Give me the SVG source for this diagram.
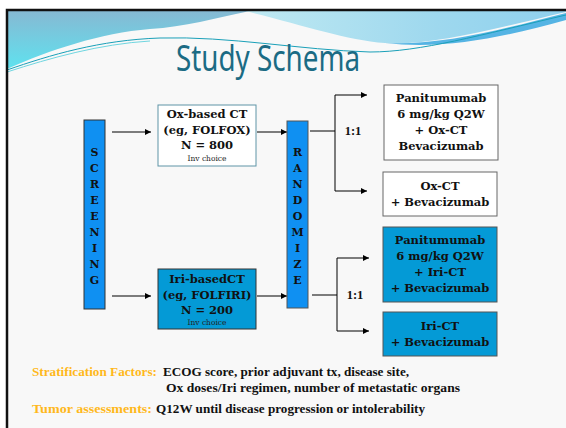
<svg xmlns="http://www.w3.org/2000/svg" width="566" height="428" viewBox="0 0 566 428">
<defs>
<linearGradient id="gTL" x1="0" y1="0" x2="0" y2="1">
<stop offset="0" stop-color="#86b9d3"/>
<stop offset="1" stop-color="#5fe2ef"/>
</linearGradient>
<linearGradient id="gTR" x1="0" y1="0" x2="1" y2="0">
<stop offset="0" stop-color="#bfe9f2"/>
<stop offset="0.6" stop-color="#9ed8ee"/>
<stop offset="1" stop-color="#8fd0ee"/>
</linearGradient>
<marker id="ah" viewBox="0 0 6 6" refX="6" refY="3" markerWidth="6" markerHeight="6" markerUnits="userSpaceOnUse" orient="auto">
<path d="M0,0 L6,3 L0,6 Z" fill="#000"/>
</marker>
</defs>
<style>
.box{font-family:"DejaVu Serif","Liberation Serif",serif;font-weight:bold;font-size:11.5px;fill:#111;text-anchor:middle}
.small{font-family:"DejaVu Serif","Liberation Serif",serif;font-size:7.5px;fill:#222;text-anchor:middle}
.vert{font-family:"DejaVu Serif","Liberation Serif",serif;font-weight:bold;font-size:11px;fill:#111;text-anchor:middle}
.ratio{font-family:"Liberation Serif",serif;font-weight:bold;font-size:12.5px;fill:#111;text-anchor:middle}
.gold{font-family:"Liberation Serif",serif;font-weight:bold;font-size:12.5px;fill:#ffb81c}
.blk{font-family:"Liberation Serif",serif;font-weight:bold;font-size:12.5px;fill:#111}
.ln{stroke:#000;stroke-width:1;fill:none}
.arr{stroke:#000;stroke-width:1;fill:none;marker-end:url(#ah)}
</style>
<rect x="0" y="0" width="566" height="428" fill="#ffffff"/>
<rect x="7" y="10" width="559" height="418" fill="#f8f8f8"/>
<g id="header">
<path d="M7,11 L250,11 C215,18 185,27 150,29 C100,33 50,50 7,69 Z" fill="url(#gTL)"/>
<path d="M245,11 C300,24 345,40 385,43 C430,46 490,30 566,12 L566,11 Z" fill="url(#gTR)"/>
<path d="M385,43 C440,46 500,30 566,13 L566,20 C505,37 445,50 385,43 Z" fill="#55b4e4"/>
<path d="M7,70 C50,55 100,40 160,38 C230,36 300,50 370,52 C420,52 480,35 566,15" fill="none" stroke="#1aa0b8" stroke-width="1"/>
<path d="M7,72 C50,58 100,44 150,41" fill="none" stroke="#6fd6e0" stroke-width="1"/>
</g>
<path d="M7,428 L7,10 L566,10" fill="none" stroke="#111" stroke-width="2.5"/>
<text x="268" y="71" font-family="Noto Sans, Open Sans, sans-serif" font-size="36" fill="#1b6b84" text-anchor="middle" textLength="184" lengthAdjust="spacingAndGlyphs">Study Schema</text>
<g id="connectors">
<line class="arr" x1="112" y1="132" x2="151" y2="132"/>
<line class="arr" x1="112" y1="296" x2="151" y2="296"/>
<line class="arr" x1="257" y1="132" x2="287" y2="132"/>
<line class="arr" x1="257" y1="296" x2="287" y2="296"/>
<line class="ln" x1="310" y1="131" x2="335" y2="131"/>
<line class="ln" x1="335" y1="95" x2="335" y2="191"/>
<line class="arr" x1="335" y1="95" x2="367" y2="95"/>
<line class="arr" x1="335" y1="191" x2="367" y2="191"/>
<line class="ln" x1="312" y1="295" x2="337" y2="295"/>
<line class="ln" x1="337" y1="258" x2="337" y2="331"/>
<line class="arr" x1="337" y1="258" x2="369" y2="258"/>
<line class="arr" x1="337" y1="331" x2="369" y2="331"/>
<text class="ratio" x="353" y="135">1:1</text>
<text class="ratio" x="355" y="299">1:1</text>
</g>
<g id="screening">
<rect x="84" y="120" width="21" height="189" fill="#0f90f2" stroke="#333" stroke-width="1"/>
<text class="vert" x="94.5" y="156">S</text>
<text class="vert" x="94.5" y="172">C</text>
<text class="vert" x="94.5" y="188">R</text>
<text class="vert" x="94.5" y="204">E</text>
<text class="vert" x="94.5" y="220">E</text>
<text class="vert" x="94.5" y="236">N</text>
<text class="vert" x="94.5" y="252">I</text>
<text class="vert" x="94.5" y="268">N</text>
<text class="vert" x="94.5" y="284">G</text>
</g>
<g id="ox-ct">
<rect x="158" y="105" width="98" height="61" fill="#ffffff" stroke="#5e94a6" stroke-width="1"/>
<text class="box" x="207" y="118">Ox-based CT</text>
<text class="box" x="207" y="134">(eg, FOLFOX)</text>
<text class="box" x="207" y="149">N = 800</text>
<text class="small" x="207" y="161">Inv choice</text>
</g>
<g id="iri-ct">
<rect x="158" y="269" width="98" height="60" fill="#049ad6" stroke="#333" stroke-width="1"/>
<text class="box" x="207" y="283">Iri-basedCT</text>
<text class="box" x="207" y="299">(eg, FOLFIRI)</text>
<text class="box" x="207" y="314">N = 200</text>
<text class="small" x="207" y="325">Inv choice</text>
</g>
<g id="randomize">
<rect x="287" y="121" width="21" height="187" fill="#0f90f2" stroke="#555" stroke-width="1"/>
<text class="vert" x="297.5" y="156">R</text>
<text class="vert" x="297.5" y="172">A</text>
<text class="vert" x="297.5" y="188">N</text>
<text class="vert" x="297.5" y="204">D</text>
<text class="vert" x="297.5" y="220">O</text>
<text class="vert" x="297.5" y="236">M</text>
<text class="vert" x="297.5" y="252">I</text>
<text class="vert" x="297.5" y="268">Z</text>
<text class="vert" x="297.5" y="284">E</text>
</g>
<g id="pan-ox">
<rect x="384" y="85" width="114" height="75" fill="#ffffff" stroke="#666" stroke-width="1"/>
<text class="box" x="441" y="102">Panitumumab</text>
<text class="box" x="441" y="118">6 mg/kg Q2W</text>
<text class="box" x="441" y="134">+ Ox-CT</text>
<text class="box" x="441" y="150">Bevacizumab</text>
</g>
<g id="ox-bev">
<rect x="383" y="172" width="114" height="44" fill="#ffffff" stroke="#666" stroke-width="1"/>
<text class="box" x="440" y="190">Ox-CT</text>
<text class="box" x="440" y="206">+ Bevacizumab</text>
</g>
<g id="pan-iri">
<rect x="383" y="227" width="114" height="75" fill="#049ad6" stroke="#555" stroke-width="1"/>
<text class="box" x="440" y="244">Panitumumab</text>
<text class="box" x="440" y="260">6 mg/kg Q2W</text>
<text class="box" x="440" y="276">+ Iri-CT</text>
<text class="box" x="440" y="292">+ Bevacizumab</text>
</g>
<g id="iri-bev">
<rect x="383" y="312" width="114" height="44" fill="#049ad6" stroke="#555" stroke-width="1"/>
<text class="box" x="440" y="330">Iri-CT</text>
<text class="box" x="440" y="346">+ Bevacizumab</text>
</g>
<g id="notes">
<text class="gold" x="32" y="376" textLength="125" lengthAdjust="spacingAndGlyphs">Stratification Factors:</text>
<text class="blk" x="163" y="376" textLength="246" lengthAdjust="spacingAndGlyphs">ECOG score, prior adjuvant tx, disease site,</text>
<text class="blk" x="166" y="392" textLength="294" lengthAdjust="spacingAndGlyphs">Ox doses/Iri regimen, number of metastatic organs</text>
<text class="gold" x="32" y="413" textLength="120" lengthAdjust="spacingAndGlyphs">Tumor assessments:</text>
<text class="blk" x="156" y="413" textLength="269" lengthAdjust="spacingAndGlyphs">Q12W until disease progression or intolerability</text>
</g>
</svg>
